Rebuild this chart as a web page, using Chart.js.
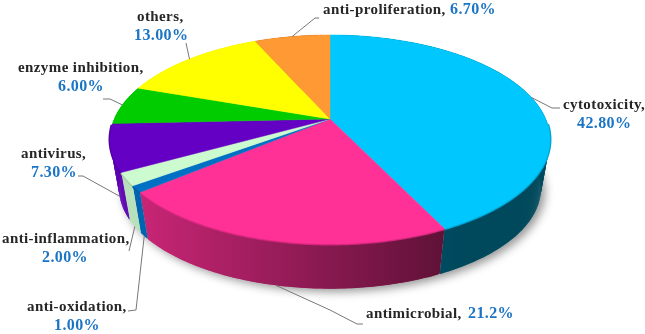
<!DOCTYPE html>
<html><head><meta charset="utf-8">
<style>html,body{margin:0;padding:0;background:#fff}canvas{display:block}</style>
<script src="https://cdn.jsdelivr.net/npm/chart.js@4/dist/chart.umd.min.js"></script>
</head><body><canvas id="c" width="645" height="334"></canvas>
<script>
const categories = ["cytotoxicity","antimicrobial","anti-oxidation","anti-inflammation","antivirus","enzyme inhibition","others","anti-proliferation"];
const shares = [42.8,21.2,1,2,7.3,6,13,6.7];
const shareLabels = ["42.80%","21.2%","1.00%","2.00%","7.30%","6.00%","13.00%","6.70%"];
const faceColors = ["#00C8FF","#FF3096","#0070C4","#CCFBCF","#6400C4","#00CC00","#FFFF00","#FF9933"];

// view of the disc: perspective mapping of the unit circle
const view = {cx:330, cy:119, a:215.7, b:100.5, k:0.196, botY:168.8, botS:0.959};
function proj(ang, bottom){
  const u=Math.cos(ang), v=Math.sin(ang), w=1-view.k*v;
  const s=bottom?view.botS:1, y0=bottom?view.botY:view.cy;
  return [view.cx+s*view.a*u/w, y0+s*view.b*v/w];
}
function shade(hex,f){
  const n=parseInt(hex.slice(1),16);
  return `rgb(${(n>>16&255)*f|0},${(n>>8&255)*f|0},${(n&255)*f|0})`;
}

// text placement: name line, value line (or inline), leader polyline
const notes = [
 {face:"top",leader:[[552,108],[560,108]],name:[563,109],val:[577,128]},
 {face:"bottom",leader:[[330,310],[357,324],[363,324]],name:[366,318],val:[468,318]},
 {face:"bottom",leader:[[136,310],[128,311]],name:[27,311],val:[54,330]},
 {face:"bottom",leader:[[129,251]],name:[2,243],val:[42,262]},
 {face:"bottom",leader:[[83,176],[78,176]],name:[21,158],val:[31,177]},
 {face:"top",leader:[[110,99],[103,99]],name:[18,72],val:[58,91]},
 {face:"top",leader:[[186,43]],name:[137,21],val:[134,40]},
 {face:"top",leader:[[315,18],[319,18]],name:[323,14],val:[450,14]}
];

const disc3d = {
  id:"disc3d",
  beforeDatasetDraw(chart,args){
    const ctx=chart.ctx, arcs=chart.getDatasetMeta(args.index).data;
    const step=Math.PI/180;
    const ring=[];
    for(let i=0;i<=360;i++) ring.push(i*step);
    // drop shadow of the whole body
    ctx.save();
    ctx.shadowColor="rgba(0,0,0,0.42)";ctx.shadowBlur=10;ctx.shadowOffsetX=4;ctx.shadowOffsetY=3;
    ctx.fillStyle="#fff";
    ctx.beginPath();
    ring.forEach((t,i)=>{const p=proj(t,true);i?ctx.lineTo(p[0],p[1]):ctx.moveTo(p[0],p[1]);});
    ctx.closePath();ctx.fill();
    ctx.restore();
    // side wall: swept bands per slice, lit from the left
    arcs.forEach((arc,i)=>{
      const mid=Math.cos((arc.startAngle+arc.endAngle)/2);
      const lit=mid<-0.7;
      const g=ctx.createLinearGradient(100,0,560,0);
      for(let s=0;s<=20;s++){
        const x=100+s*23;
        const f=lit?0.92:Math.max(0.36,0.78-0.4*(x-145)/295);
        g.addColorStop(s/20,shade(faceColors[i],Math.min(f,0.9)));
      }
      ctx.fillStyle=g;
      const fine=step/2;
      for(let t=arc.startAngle;t<arc.endAngle;t+=fine){
        const e=Math.min(t+fine*2,arc.endAngle);
        const a=proj(t),b=proj(e),c=proj(e,true),d=proj(t,true);
        ctx.beginPath();ctx.moveTo(a[0],a[1]);ctx.lineTo(b[0],b[1]);ctx.lineTo(c[0],c[1]);ctx.lineTo(d[0],d[1]);ctx.closePath();ctx.fill();
      }
    });
    // soft rim between wall and face, front edge only
    arcs.forEach((arc,i)=>{
      ctx.strokeStyle=shade(faceColors[i],0.82);ctx.lineWidth=3;
      ctx.beginPath();
      let open=false;
      for(let t=arc.startAngle;t<=arc.endAngle;t+=step/2){
        if(Math.sin(t)<0.05){continue;}
        const p=proj(t);
        open?ctx.lineTo(p[0],p[1]):ctx.moveTo(p[0],p[1]);open=true;
      }
      ctx.stroke();
    });
    // top face
    arcs.forEach((arc,i)=>{
      ctx.fillStyle=faceColors[i];
      ctx.strokeStyle=faceColors[i];ctx.lineWidth=0.5;
      ctx.beginPath();ctx.moveTo(view.cx,view.cy);
      for(let t=arc.startAngle;t<arc.endAngle;t+=step/2){const p=proj(t);ctx.lineTo(p[0],p[1]);}
      const p=proj(arc.endAngle);ctx.lineTo(p[0],p[1]);
      ctx.closePath();ctx.fill();ctx.stroke();
    });
    return false;
  },
  afterDatasetsDraw(chart){
    const ctx=chart.ctx, arcs=chart.getDatasetMeta(0).data;
    ctx.save();
    ctx.textBaseline="alphabetic";ctx.textAlign="left";
    if("letterSpacing" in ctx) ctx.letterSpacing="0.4px";
    arcs.forEach((arc,i)=>{
      const n=notes[i];
      const s=proj((arc.startAngle+arc.endAngle)/2,n.face==="bottom");
      ctx.strokeStyle="#777";ctx.lineWidth=1;
      ctx.beginPath();ctx.moveTo(s[0],s[1]);
      n.leader.forEach(p=>ctx.lineTo(p[0],p[1]));
      ctx.stroke();
      ctx.font='bold 15px "Liberation Serif"';
      ctx.fillStyle="#262626";
      ctx.fillText(categories[i]+",",n.name[0],n.name[1]);
      ctx.font='bold 16px "Liberation Serif"';
      ctx.fillStyle="#1B75C4";
      ctx.fillText(shareLabels[i],n.val[0],n.val[1]);
    });
    ctx.restore();
  }
};

new Chart(document.getElementById("c"),{
  type:"pie",
  data:{labels:categories,datasets:[{data:shares,backgroundColor:faceColors,borderWidth:0}]},
  options:{responsive:false,animation:false,plugins:{legend:{display:false},tooltip:{enabled:false}}},
  plugins:[disc3d]
});
</script></body></html>
